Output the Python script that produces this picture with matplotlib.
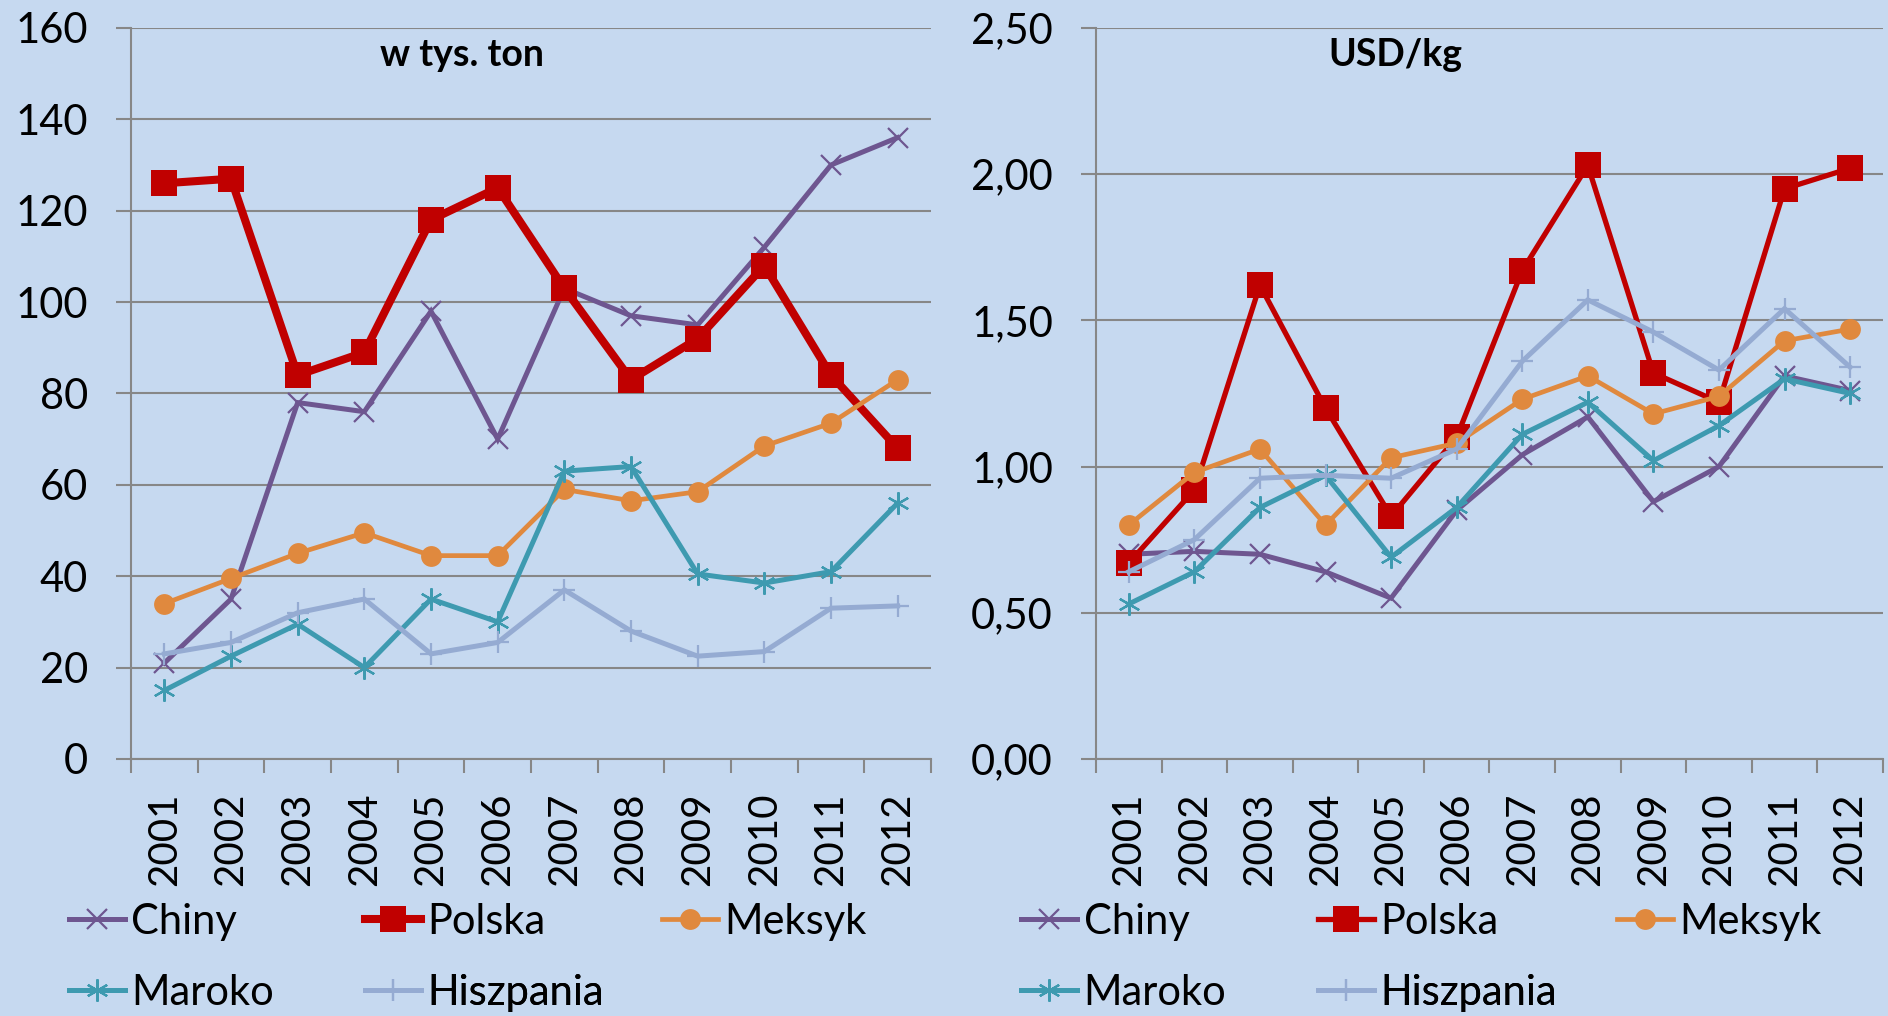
import numpy as np
import matplotlib
matplotlib.use('Agg')
import matplotlib.pyplot as plt
from matplotlib.ticker import FixedLocator, FuncFormatter

plt.rcParams['font.family'] = ['Lato', 'DejaVu Sans']

# data
years = ['2001', '2002', '2003', '2004', '2005', '2006',
         '2007', '2008', '2009', '2010', '2011', '2012']
names = ['Chiny', 'Polska', 'Meksyk', 'Maroko', 'Hiszpania']

# w tys. ton
vol_chiny = [21, 35, 78, 76, 98, 70, 103, 97, 95, 112, 130, 136]
vol_polska = [126, 127, 84, 89, 118, 125, 103, 83, 92, 108, 84, 68]
vol_meksyk = [34, 39.5, 45, 49.5, 44.5, 44.5, 59, 56.5, 58.5, 68.5, 73.5, 83]
vol_maroko = [15, 22.5, 29.5, 20, 35, 30, 63, 64, 40.5, 38.5, 41, 56]
vol_hiszpania = [23, 25.5, 32, 35, 23, 25.5, 37, 28, 22.5, 23.5, 33, 33.5]

# USD/kg
price_chiny = [0.70, 0.71, 0.70, 0.64, 0.55, 0.85, 1.04, 1.17, 0.88, 1.00, 1.31, 1.26]
price_polska = [0.67, 0.92, 1.62, 1.20, 0.83, 1.10, 1.67, 2.03, 1.32, 1.22, 1.95, 2.02]
price_meksyk = [0.80, 0.98, 1.06, 0.80, 1.03, 1.08, 1.23, 1.31, 1.18, 1.24, 1.43, 1.47]
price_maroko = [0.53, 0.64, 0.86, 0.97, 0.69, 0.86, 1.11, 1.22, 1.02, 1.14, 1.30, 1.25]
price_hiszpania = [0.64, 0.75, 0.96, 0.97, 0.96, 1.06, 1.36, 1.57, 1.46, 1.33, 1.54, 1.34]

bg = '#C6D9F0'
grey = '#878787'
colors = ['#6E5690', '#C00000', '#E0893E', '#3E9AB0', '#95ABD2']
asterisk = (6, 2, 0)

fig = plt.figure(figsize=(18.88, 10.16), dpi=100)
fig.patch.set_facecolor(bg)

ax1 = fig.add_axes([0.0694, 0.2530, 0.4237, 0.7195])
ax2 = fig.add_axes([0.5805, 0.2530, 0.4168, 0.7195])

x = np.arange(len(years))


def draw(ax, series, polska_lw, ymax, step, fmt):
    ax.set_facecolor(bg)
    styles = [
        dict(marker='x', ms=15, mew=1.6, lw=3.6),
        dict(marker='s', ms=19, mew=0, lw=polska_lw),
        dict(marker='o', ms=15, mew=0, lw=3.4),
        dict(marker=asterisk, ms=16, mew=1.6, lw=3.6),
        dict(marker='+', ms=16, mew=1.6, lw=3.6),
    ]
    lines = []
    for vals, name, c, st in zip(series, names, colors, styles):
        ln, = ax.plot(x, vals, color=c, mec=c, mfc=c, label=name,
                      solid_joinstyle='miter', clip_on=False, **st)
        lines.append(ln)
    ax.set_xlim(-0.5, len(years) - 0.5)
    ax.set_ylim(0, ymax)
    ax.set_yticks(np.arange(0, ymax + step / 2, step))
    ax.yaxis.set_major_formatter(FuncFormatter(fmt))
    ax.grid(axis='y', color=grey, lw=1.5)
    ax.set_axisbelow(True)
    for s in ['top', 'right']:
        ax.spines[s].set_visible(False)
    for s in ['left', 'bottom']:
        ax.spines[s].set_color(grey)
        ax.spines[s].set_linewidth(1.5)
    ax.set_xticks(x)
    ax.set_xticklabels(years, rotation=90, fontsize=29)
    ax.xaxis.set_minor_locator(FixedLocator(np.arange(-0.5, len(years), 1)))
    ax.tick_params(axis='x', which='major', length=0, pad=24)
    ax.tick_params(axis='x', which='minor', length=10, width=1.5, color=grey)
    ax.tick_params(axis='y', length=11, width=1.5, color=grey, labelsize=30, pad=20)
    return lines


lines1 = draw(ax1, [vol_chiny, vol_polska, vol_meksyk, vol_maroko, vol_hiszpania],
              5.8, 160, 20, lambda v, p: '%d' % v)
lines2 = draw(ax2, [price_chiny, price_polska, price_meksyk, price_maroko, price_hiszpania],
              3.8, 2.5, 0.5, lambda v, p: ('%.2f' % v).replace('.', ','))

ax1.text(0.414, 0.963, 'w tys. ton', transform=ax1.transAxes, ha='center', va='center',
         fontsize=27, fontweight='bold')
ax2.text(0.38, 0.963, 'USD/kg', transform=ax2.transAxes, ha='center', va='center',
         fontsize=27, fontweight='bold')

# legends, Excel style: 3 columns x 2 rows under each chart
rows_y = [0.0925, 0.0226]
cols_left = [0.0365, 0.1933, 0.3506]
cols_right = [0.5408, 0.6981, 0.8565]
for ax, lines, cols in [(ax1, lines1, cols_left), (ax2, lines2, cols_right)]:
    for i, ln in enumerate(lines):
        leg = ax.legend([ln], [ln.get_label()], loc='center left',
                        bbox_to_anchor=(cols[i % 3], rows_y[i // 3]),
                        bbox_transform=fig.transFigure, frameon=False,
                        borderpad=0, borderaxespad=0, numpoints=1,
                        handlelength=1.35, handletextpad=0.15, fontsize=30)
        ax.add_artist(leg)

fig.savefig('out.png', dpi=100, facecolor=bg)
